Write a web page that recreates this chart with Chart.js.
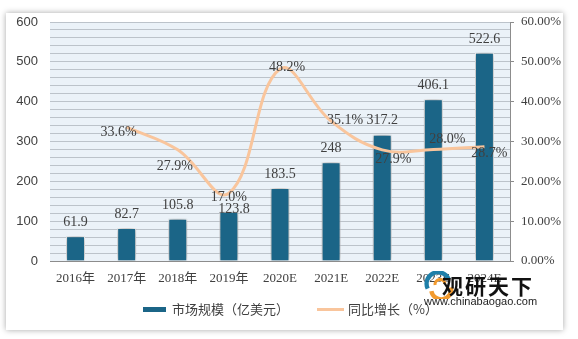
<!DOCTYPE html>
<html>
<head>
<meta charset="utf-8">
<script src="https://cdn.jsdelivr.net/npm/chart.js@4"></script>
<style>
  html, body { margin: 0; padding: 0; background: #fff; }
  body { width: 578px; height: 339px; position: relative; overflow: hidden; }
  #card {
    position: absolute; left: 6px; top: 13px; width: 557px; height: 317px;
    background: #fff; box-shadow: 0 0 6px rgba(0,0,0,0.35);
  }
  #wm { position: absolute; left: 418px; top: 271px; width: 124px; height: 42px; }
  #wm .logo { position: absolute; left: 6px; top: 0px; width: 32px; height: 28px; }
  #wm .name { position: absolute; left: 24px; top: 0px; font: bold 21px "Noto Sans CJK SC"; color: #111; letter-spacing: 2px; line-height: 28px; }
  #wm .url { position: absolute; left: 6px; top: 24px; font: 11px "Liberation Sans", Arial; color: #222; }
</style>
</head>
<body>
<div id="card"><canvas id="chart" width="557" height="317"></canvas></div>
<div id="wm">
  <svg class="logo" viewBox="0 0 26 22">
    <path d="M3 14 A9 9 0 0 1 20 6" stroke="#1f7fa8" stroke-width="3.5" fill="none"/>
    <path d="M6 16 A7 7 0 0 0 22 13" stroke="#f29a2e" stroke-width="3.5" fill="none"/>
    <path d="M9 11 A4 4 0 0 1 17 10" stroke="#f29a2e" stroke-width="2.5" fill="none"/>
  </svg>
  <div class="name">观研天下</div>
  <div class="url">www.chinabaogao.com</div>
</div>
<script>
let years = ['2016年', '2017年', '2018年', '2019年', '2020E', '2021E', '2022E', '2023E', '2024E'];
let marketSize = [61.9, 82.7, 105.8, 123.8, 183.5, 248, 317.2, 406.1, 522.6];
let growth = [null, 33.6, 27.9, 17.0, 48.2, 35.1, 27.9, 28.0, 28.7];

let barColor = '#1b6587';
let lineColor = '#f9c59c';
let textColor = '#404040';
let serif = '"Liberation Serif", "Noto Sans CJK SC"';

// label nudges (dx, dy) so texts sit where the original put them
let barLabelShift = [[0, 0], [0, 0], [0, 0], [5, 12], [0, 0], [0, 0], [0, 0], [0, 0], [0, 0]];
let growthLabelShift = [null, [-8, 5], [-3, 16], [0, 4], [7, -2], [14, -1], [11, 9], [14, -10], [5, 7]];

let plotBg = {
  id: 'plotBg',
  beforeDraw(chart) {
    let a = chart.chartArea, ctx = chart.ctx;
    ctx.save();
    ctx.fillStyle = '#ebf2f8';
    ctx.fillRect(a.left, a.top, a.right - a.left, a.bottom - a.top);
    ctx.restore();
  }
};

let barShadow = {
  id: 'barShadow',
  beforeDatasetDraw(chart, args) {
    if (args.index !== 0) return;
    let ctx = chart.ctx;
    ctx.save();
    ctx.shadowColor = 'rgba(0,0,0,0.45)';
    ctx.shadowBlur = 6;
    ctx.shadowOffsetX = 0;
  },
  afterDatasetDraw(chart, args) {
    if (args.index !== 0) return;
    chart.ctx.restore();
  }
};

let valueLabels = {
  id: 'valueLabels',
  afterDatasetsDraw(chart) {
    let ctx = chart.ctx;
    ctx.save();
    ctx.font = '14px ' + serif;
    ctx.fillStyle = textColor;
    ctx.textAlign = 'center';
    ctx.textBaseline = 'middle';
    chart.getDatasetMeta(0).data.forEach((bar, i) => {
      let s = barLabelShift[i];
      ctx.fillText(String(marketSize[i]), bar.x + s[0], bar.y - 14 + s[1]);
    });
    chart.getDatasetMeta(1).data.forEach((pt, i) => {
      if (growth[i] == null) return;
      let s = growthLabelShift[i];
      ctx.fillText(growth[i].toFixed(1) + '%', pt.x + s[0], pt.y + s[1]);
    });
    ctx.restore();
  }
};

let bottomLegend = {
  id: 'bottomLegend',
  afterDraw(chart) {
    let ctx = chart.ctx;
    let y = 296;
    ctx.save();
    ctx.font = '13px "Noto Sans CJK SC"';
    ctx.textBaseline = 'middle';
    ctx.fillStyle = barColor;
    ctx.fillRect(137, y - 2, 23, 5);
    ctx.fillStyle = textColor;
    ctx.fillText(chart.data.datasets[0].label, 166, y);
    ctx.strokeStyle = lineColor;
    ctx.lineWidth = 3;
    ctx.beginPath();
    ctx.moveTo(311, y + 0.5);
    ctx.lineTo(338, y + 0.5);
    ctx.stroke();
    ctx.fillText(chart.data.datasets[1].label, 342, y);
    ctx.restore();
  }
};

new Chart(document.getElementById('chart'), {
  type: 'bar',
  data: {
    labels: years,
    datasets: [
      {
        type: 'bar',
        label: '市场规模（亿美元）',
        data: marketSize,
        backgroundColor: barColor,
        borderColor: '#ffffff',
        borderWidth: 1,
        barPercentage: 0.37,
        categoryPercentage: 1,
        yAxisID: 'y',
        order: 2
      },
      {
        type: 'line',
        label: '同比增长（%）',
        data: growth,
        borderColor: lineColor,
        backgroundColor: lineColor,
        borderWidth: 3,
        tension: 0.4,
        pointRadius: 0,
        yAxisID: 'y1',
        order: 1
      }
    ]
  },
  options: {
    responsive: false,
    animation: false,
    layout: { padding: { top: 9, bottom: 43, left: 0, right: 0 } },
    plugins: {
      legend: { display: false },
      tooltip: { enabled: false }
    },
    scales: {
      x: {
        grid: { display: false, drawTicks: false },
        border: { display: true, color: '#8c8c8c', width: 1 },
        ticks: { color: textColor, font: { family: serif, size: 13 }, padding: 10, maxRotation: 0 },
        afterFit(s) { s.height = 26; }
      },
      y: {
        position: 'left',
        min: 0, max: 600,
        grid: { color: '#bcc3ca', lineWidth: 1, drawTicks: false },
        border: { display: false },
        ticks: {
          stepSize: 20, autoSkip: false, maxTicksLimit: 100, padding: 12,
          color: textColor, font: { family: '"Liberation Sans", Arial', size: 13 },
          callback: v => (v % 100 === 0 ? v : '')
        },
        afterFit(s) { s.width = 44; s.paddingTop = 0; s.paddingBottom = 0; }
      },
      y1: {
        position: 'right',
        min: 0, max: 60,
        grid: { drawOnChartArea: false, drawTicks: true, tickLength: 4, color: '#8c8c8c' },
        border: { display: true, color: '#8c8c8c' },
        ticks: {
          stepSize: 10, padding: 7,
          color: textColor, font: { family: serif, size: 13 },
          callback: v => v.toFixed(2) + '%'
        },
        afterFit(s) { s.width = 53; s.paddingTop = 0; s.paddingBottom = 0; }
      }
    }
  },
  plugins: [plotBg, barShadow, valueLabels, bottomLegend]
});
</script>
</body>
</html>
